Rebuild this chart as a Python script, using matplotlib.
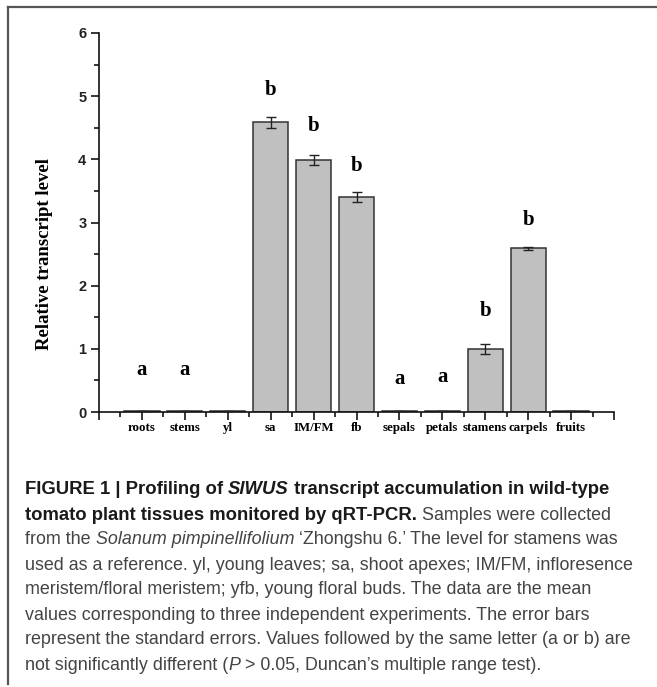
import matplotlib
matplotlib.use('Agg')
import matplotlib.pyplot as plt
from matplotlib.lines import Line2D
from matplotlib.ticker import FixedLocator, MultipleLocator
import numpy as np

# data
tissues = ['roots', 'stems', 'yl', 'sa', 'IM/FM', 'fb', 'sepals', 'petals', 'stamens', 'carpels', 'fruits']
levels = [0.02, 0.02, 0.02, 4.59, 3.99, 3.40, 0.02, 0.02, 1.00, 2.59, 0.02]
errors = [0, 0, 0, 0.087, 0.085, 0.08, 0, 0, 0.074, 0.02, 0]
letters = ['a', 'a', '', 'b', 'b', 'b', 'a', 'a', 'b', 'b', '']
letter_y = [0.66, 0.66, 0, 5.1, 4.52, 3.9, 0.53, 0.55, 1.6, 3.04, 0]

W, H = 657, 687
fig = plt.figure(figsize=(W / 100, H / 100), dpi=100)
ax = fig.add_axes([99 / W, 1 - 412 / H, 515 / W, 379 / H])

serif = ['Liberation Serif', 'DejaVu Serif']
sans = ['Liberation Sans', 'DejaVu Sans']

x = np.arange(1, len(tissues) + 1)
ax.bar(x, levels, width=0.82, color='#c0c0c0', edgecolor='#333333', linewidth=1.1, zorder=2)
ax.errorbar(x, levels, yerr=errors, fmt='none', ecolor='#222222', elinewidth=1.0, capsize=3.5, capthick=1.0, zorder=3)

for xi, lt, ly in zip(x, letters, letter_y):
    if lt:
        ax.text(xi, ly, lt, ha='center', va='center', fontsize=15, fontweight='bold', family=serif, color='black')

ax.set_xlim(0, 12)
ax.set_ylim(0, 6)
ax.xaxis.set_major_locator(FixedLocator(list(range(0, 13))))
ax.set_xticklabels([''] + tissues + [''], fontsize=9.3, fontweight='bold', family=serif)
ax.xaxis.set_minor_locator(FixedLocator(list(np.arange(0.5, 12, 1.0))))
ax.yaxis.set_major_locator(MultipleLocator(1))
ax.yaxis.set_minor_locator(MultipleLocator(0.5))
for lab in ax.get_yticklabels():
    lab.set_fontweight('bold')
    lab.set_family(sans)
    lab.set_fontsize(10.5)
ax.tick_params(axis='x', which='major', direction='out', length=5.5, width=1.1, pad=2)
ax.tick_params(axis='x', which='minor', direction='out', length=3.5, width=1.1)
ax.tick_params(axis='y', which='major', direction='out', length=6, width=1.1, pad=3, labelcolor='#222222')
ax.tick_params(axis='y', which='minor', direction='out', length=3.5, width=1.1)

for s in ['top', 'right']:
    ax.spines[s].set_visible(False)
for s in ['left', 'bottom']:
    ax.spines[s].set_linewidth(1.2)
    ax.spines[s].set_color('#111111')

ax.set_ylabel('Relative transcript level', fontsize=13.5, fontweight='bold', family=serif)
ax.yaxis.set_label_coords(-0.089, 0.417)

# frame around the figure panel
fig.add_artist(Line2D([8 / W, 8 / W], [1 - 7 / H, 1 - 684 / H], color='#555555', lw=1.6))
fig.add_artist(Line2D([8 / W, 1.0], [1 - 7 / H, 1 - 7 / H], color='#555555', lw=1.6))

# caption
B, R, I, BI = ('bold', 'normal'), ('normal', 'normal'), ('normal', 'italic'), ('bold', 'italic')
caption = [
    [("FIGURE 1 | Profiling of ", B), ("SlWUS", BI), (" transcript accumulation in wild-type", B)],
    [("tomato plant tissues monitored by qRT-PCR.", B), (" Samples were collected", R)],
    [("from the ", R), ("Solanum pimpinellifolium", I), (" \u2018Zhongshu 6.\u2019 The level for stamens was", R)],
    [("used as a reference. yl, young leaves; sa, shoot apexes; IM/FM, infloresence", R)],
    [("meristem/floral meristem; yfb, young floral buds. The data are the mean", R)],
    [("values corresponding to three independent experiments. The error bars", R)],
    [("represent the standard errors. Values followed by the same letter (a or b) are", R)],
    [("not significantly different (", R), ("P", I), (" > 0.05, Duncan\u2019s multiple range test).", R)],
]
cap_size = 12.9
bold_size = 13.3
renderer = fig.canvas.get_renderer()


def text_width(s, weight, style, size):
    # pad with letters so leading/trailing spaces are measured
    t1 = fig.text(0, 0, 'x' + s + 'x', fontsize=size, fontweight=weight, fontstyle=style, family=sans)
    t2 = fig.text(0, 0, 'xx', fontsize=size, fontweight=weight, fontstyle=style, family=sans)
    w = t1.get_window_extent(renderer).width - t2.get_window_extent(renderer).width
    t1.remove()
    t2.remove()
    return w


for i, line in enumerate(caption):
    y = 1 - (490 + 25 * i) / H
    xpos = 25.0
    for s, (weight, style) in line:
        bold = weight == 'bold'
        size = bold_size if bold else cap_size
        color = '#1a1a1a' if bold else '#444444'
        fig.text(xpos / W, y, s, fontsize=size, fontweight=weight, fontstyle=style,
                 family=sans, color=color, va='center', ha='left')
        xpos += text_width(s, weight, style, size)

fig.savefig('out.png', dpi=100)
